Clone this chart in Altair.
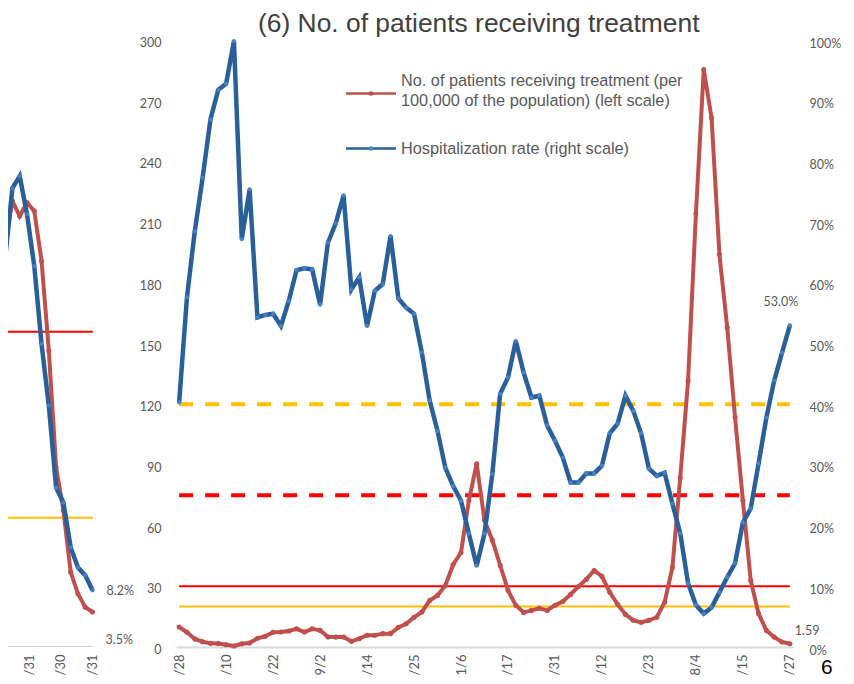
import altair as alt
import pandas as pd

# ---------------- main panel (weekly points) ----------------
x_labels = ["/28", "/21", "/10", "7/1", "/22", "/12", "9/2", "/23", "/14", "1/4",
            "/25", "/16", "1/6", "/27", "/17", "/10", "/31", "/21", "/12", "6/2",
            "/23", "/14", "8/4", "/25", "/15", "0/6", "/27"]

patients = [9.9, 7.3, 4.0, 2.6, 1.8, 1.7, 1.1, 0.5, 1.6, 2.0,
            4.3, 5.3, 7.3, 7.4, 7.9, 9.0, 7.4, 9.0, 8.2, 5.0,
            4.9, 4.9, 2.8, 4.1, 5.8, 5.8, 6.6, 6.6, 9.7, 11.5,
            14.7, 17.3, 23.0, 25.5, 30.4, 40.8, 46.7, 72.4, 90.6, 62.7,
            52.8, 40.4, 28.0, 20.6, 17.1, 18.1, 19.1, 18.1, 20.6, 22.5,
            26.0, 29.9, 33.4, 37.8, 34.9, 27.0, 21.1, 16.1, 13.2, 12.2,
            13.2, 14.7, 22.1, 39.3, 83.7, 131.6, 214.1, 285.4, 261.5, 194.1,
            157.9, 113.5, 72.4, 32.9, 16.5, 8.2, 4.9, 2.5, 1.59]

hosp_rate = [40.3, 57.6, 68.5, 77.3, 86.9, 91.8, 92.8, 99.8, 67.2, 75.4,
             54.3, 54.7, 54.9, 52.9, 57.0, 62.1, 62.4, 62.2, 56.4, 66.6,
             69.8, 74.4, 58.9, 60.9, 52.9, 58.7, 59.8, 67.7, 57.4, 55.9,
             54.9, 48.5, 40.6, 35.6, 29.5, 26.5, 24.1, 18.7, 13.4, 18.7,
             28.5, 41.7, 44.4, 50.4, 45.2, 41.1, 41.4, 36.5, 34.0, 31.2,
             27.1, 27.1, 28.6, 28.6, 29.9, 35.2, 36.8, 41.4, 38.9, 35.2,
             29.4, 28.2, 28.7, 23.6, 18.7, 10.5, 6.9, 5.5, 6.5, 9.0,
             11.5, 13.8, 20.5, 22.8, 30.2, 37.8, 43.9, 48.5, 53.0]

threshold_values = [120, 75, 30, 20]          # left-scale units
threshold_colors = ["#FFC000", "#FF0000", "#FF0000", "#FFC000"]
threshold_dashed = [True, True, False, False]

patients_end_label = "1.59"
hosp_end_label = "53.0%"

legend_lines = ["No. of patients receiving treatment (per\n100,000 of the population) (left scale)",
                "Hospitalization rate (right scale)"]

# ---------------- previous panel (partly visible, left) ----------------
prev_days = [-91, -84, -77, -70, -63, -56, -49, -42, -35, -28, -21, -14, -7, 0]
prev_patients = [190.8, 200.7, 220.4, 213.0, 219.6, 215.5, 190.8, 146.4, 88.8, 67.6,
                 37.0, 26.3, 19.7, 17.3]
prev_hosp = [106.9, 191.8, 226.8, 232.7, 213.9, 188.3, 149.8, 119.3, 78.8, 71.4,
             49.2, 39.3, 35.4, 28.0]
prev_threshold_values = [155.8, 63.9]
prev_threshold_colors = ["#FF0000", "#FFC000"]
prev_label_days = [-61, -31, 0]
prev_labels = ["/31", "/30", "/31"]
prev_end_labels = ["8.2%", "3.5%"]

RED = "#C0504D"
BLUE = "#2A6099"
BLUE_PT = "#4381CC"
GRAY = "#595959"
NUM_FONT = "Lato"
TXT_FONT = "Liberation Sans"

n = len(patients)
main_df = pd.DataFrame({"i": list(range(n)), "patients": patients, "hosp": hosp_rate})
thr_df = pd.DataFrame({"y": threshold_values, "color": threshold_colors,
                       "dashed": threshold_dashed, "x0": 0, "x1": n - 1})

W_MAIN, H = 617, 607
xs = alt.Scale(domain=[-0.4, n - 1 + 0.4], nice=False, zero=False)
ys_left = alt.Scale(domain=[0, 300], nice=False)
ys_right = alt.Scale(domain=[0, 100], nice=False)

tick_idx = [3 * k for k in range(len(x_labels))]
label_arr = "[" + ",".join("'" + s + "'" for s in x_labels) + "]"
x_axis = alt.Axis(values=tick_idx, labelExpr=label_arr + "[round(datum.value/3)]",
                  labelAngle=270, labelFontSize=13, labelColor=GRAY, labelFont=NUM_FONT,
                  ticks=False, grid=False, domain=True, domainColor="#D9D9D9",
                  domainWidth=2, labelPadding=7, title=None)

red_line = alt.Chart(main_df).mark_line(
    color=RED, strokeWidth=4,
    point=alt.OverlayMarkDef(color=RED, filled=True, size=26, opacity=1)
).encode(
    x=alt.X("i:Q", scale=xs, axis=x_axis),
    y=alt.Y("patients:Q", scale=ys_left,
            axis=alt.Axis(orient="left", values=list(range(0, 301, 30)), ticks=False,
                          domain=False, grid=False, labelFontSize=12.5, labelColor=GRAY,
                          labelFont=NUM_FONT, labelPadding=15, labelOffset=2.5,
                          title=None)),
)

blue_line = alt.Chart(main_df).mark_line(
    color=BLUE, strokeWidth=4.5,
    point=alt.OverlayMarkDef(color=BLUE_PT, filled=True, size=18, opacity=1)
).encode(
    x=alt.X("i:Q", scale=xs),
    y=alt.Y("hosp:Q", scale=ys_right,
            axis=alt.Axis(orient="right", values=list(range(0, 101, 10)),
                          labelExpr="datum.value + '%'", ticks=False, domain=False,
                          grid=False, labelFontSize=12.5, labelColor=GRAY,
                          labelFont=NUM_FONT, labelPadding=16, labelOffset=3,
                          title=None)),
)

rules_dashed = alt.Chart(thr_df).transform_filter("datum.dashed").mark_rule(
    strokeWidth=4, strokeDash=[14, 12]
).encode(
    x=alt.X("x0:Q", scale=xs), x2="x1:Q",
    y=alt.Y("y:Q", scale=ys_left, axis=None),
    color=alt.Color("color:N", scale=None),
)
rules_solid = alt.Chart(thr_df).transform_filter("!datum.dashed").mark_rule(
    strokeWidth=2
).encode(
    x=alt.X("x0:Q", scale=xs), x2="x1:Q",
    y=alt.Y("y:Q", scale=ys_left, axis=None),
    color=alt.Color("color:N", scale=None),
)

end_df = pd.DataFrame({"i": [n - 1], "patients": [patients[-1]], "hosp": [hosp_rate[-1]],
                       "pl": [patients_end_label], "hl": [hosp_end_label]})
hosp_text = alt.Chart(end_df).mark_text(
    font=NUM_FONT, fontSize=12.5, color=GRAY, dx=-9, dy=-23, align="center"
).encode(x=alt.X("i:Q", scale=xs), y=alt.Y("hosp:Q", scale=ys_right, axis=None),
         text="hl:N")
pat_text = alt.Chart(end_df).mark_text(
    font=NUM_FONT, fontSize=12.5, color=GRAY, dx=5, dy=-13, align="left"
).encode(x=alt.X("i:Q", scale=xs), y=alt.Y("patients:Q", scale=ys_left, axis=None),
         text="pl:N")

# legend (drawn by hand, placed in pixels inside the plot area)
leg_df = pd.DataFrame({"label": legend_lines, "color": [RED, BLUE], "pt": [RED, BLUE_PT],
                       "ly": [53.5, 108.5], "ty": [40.5, 108.5]})
leg_rules = []
for k in range(2):
    row = leg_df.iloc[[k]]
    leg_rules.append(alt.Chart(row).mark_rule(strokeWidth=2.5, color=leg_df.color[k]).encode(
        x=alt.value(170), x2=alt.value(220), y=alt.value(float(leg_df.ly[k]))))
    leg_rules.append(alt.Chart(row).mark_point(filled=True, size=22, opacity=1,
                                               color=leg_df.pt[k]).encode(
        x=alt.value(195), y=alt.value(float(leg_df.ly[k]))))
    leg_rules.append(alt.Chart(row).mark_text(
        align="left", baseline="middle", font=TXT_FONT, fontSize=16.3, color=GRAY,
        lineBreak="\n", lineHeight=20).encode(
        x=alt.value(225), y=alt.value(float(leg_df.ty[k])), text="label:N"))

page_no = alt.Chart(pd.DataFrame({"t": ["6"]})).mark_text(
    align="left", baseline="top", font=TXT_FONT, fontSize=21, color="#000000"
).encode(x=alt.value(W_MAIN + 28), y=alt.value(H + 10), text="t:N")

main = alt.layer(rules_solid, rules_dashed, red_line, blue_line, hosp_text, pat_text,
                 *leg_rules, page_no).resolve_scale(y="independent").properties(
    width=W_MAIN, height=H)

# ---------------- left (previous) panel ----------------
W_PREV = 128
pxs = alt.Scale(domain=[-81.25, 41.8], nice=False, zero=False)
prev_df = pd.DataFrame({"d": prev_days, "patients": prev_patients, "hosp": prev_hosp})
prev_thr = pd.DataFrame({"y": prev_threshold_values + [0],
                         "color": prev_threshold_colors + ["#D9D9D9"],
                         "x0": prev_days[0], "x1": [0.3, 0.3, 0]})
prev_label_arr = "[" + ",".join("'" + s + "'" for s in prev_labels) + "]"
prev_axis = alt.Axis(values=prev_label_days,
                     labelExpr=prev_label_arr + "[indexof(" + str(prev_label_days) + ", datum.value)]",
                     labelAngle=270, labelFontSize=13, labelColor=GRAY, labelFont=NUM_FONT,
                     ticks=False, grid=False, domain=False, labelPadding=7, title=None)

p_rules = alt.Chart(prev_thr).mark_rule(strokeWidth=2, clip=True).encode(
    x=alt.X("x0:Q", scale=pxs, axis=prev_axis), x2="x1:Q",
    y=alt.Y("y:Q", scale=ys_left, axis=None),
    color=alt.Color("color:N", scale=None))
p_red = alt.Chart(prev_df).mark_line(
    color=RED, strokeWidth=4, clip=True,
    point=alt.OverlayMarkDef(color=RED, filled=True, size=26, opacity=1, clip=True)
).encode(x=alt.X("d:Q", scale=pxs), y=alt.Y("patients:Q", scale=ys_left, axis=None))
p_blue = alt.Chart(prev_df).mark_line(
    color=BLUE, strokeWidth=4.5, clip=True,
    point=alt.OverlayMarkDef(color=BLUE_PT, filled=True, size=18, opacity=1, clip=True)
).encode(x=alt.X("d:Q", scale=pxs), y=alt.Y("hosp:Q", scale=ys_left, axis=None))
p_end = pd.DataFrame({"d": [0, 0], "v": [prev_hosp[-1], prev_patients[-1]],
                      "t": prev_end_labels})
p_text_b = alt.Chart(p_end.iloc[[0]]).mark_text(
    font=NUM_FONT, fontSize=12.5, color=GRAY, align="left", dx=14, dy=1
).encode(x=alt.X("d:Q", scale=pxs), y=alt.Y("v:Q", scale=ys_left, axis=None), text="t:N")
p_text_r = alt.Chart(p_end.iloc[[1]]).mark_text(
    font=NUM_FONT, fontSize=12.5, color=GRAY, align="left", dx=13, dy=28
).encode(x=alt.X("d:Q", scale=pxs), y=alt.Y("v:Q", scale=ys_left, axis=None), text="t:N")

prev = alt.layer(p_rules, p_red, p_blue, p_text_b, p_text_r).properties(
    width=W_PREV, height=H)

chart = alt.hconcat(prev, main, spacing=3).properties(
    title=alt.TitleParams(text="(6) No. of patients receiving treatment", anchor="start",
                          dx=250, fontSize=26.4, font=TXT_FONT, color="#404040",
                          fontWeight="normal", offset=-5),
    padding={"left": 0, "top": 2, "right": 0, "bottom": 0},
).configure_view(stroke=None)

chart.save("out.html", embed_options={"renderer": "svg", "actions": False})
